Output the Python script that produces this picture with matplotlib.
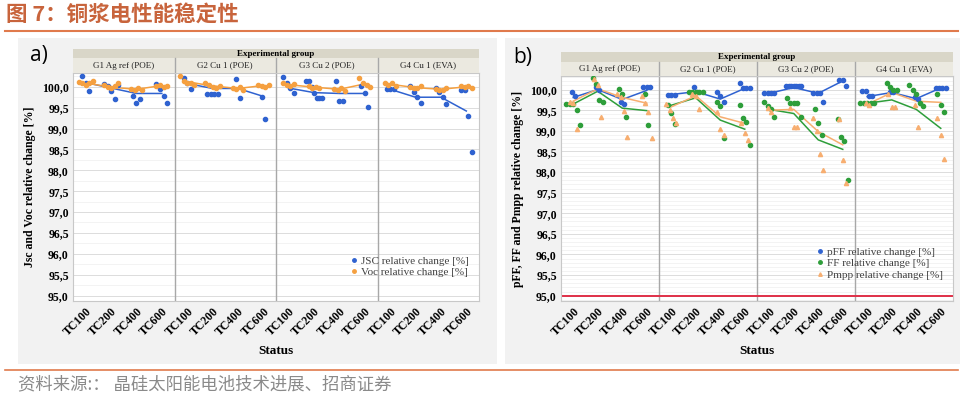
import numpy as np
import matplotlib.pyplot as plt
from matplotlib.patches import Rectangle
from matplotlib.lines import Line2D
from matplotlib.ticker import MultipleLocator, FuncFormatter

plt.rcParams['font.family'] = ['Liberation Serif', 'DejaVu Serif']

W, H = 966, 394

# --- data ---
groups = ['G1 Ag ref (POE)', 'G2 Cu 1 (POE)', 'G3 Cu 2 (POE)', 'G4 Cu 1 (EVA)']
status = ['TC100', 'TC200', 'TC400', 'TC600']

# panel a: Jsc and Voc, 16 positions (4 groups x 4 statuses)
jsc_pts = [
    [100.26, 100.1, 99.9], [100.06, 100.02, 99.9, 99.71, 100.05], [99.78, 99.62, 99.7], [100.06, 99.94, 99.78, 99.62],
    [100.2, 100.1, 99.94], [99.82, 99.82, 99.82, 99.82], [100.18, 99.74], [99.76, 99.22],
    [100.24, 100.08, 99.96, 99.84], [100.13, 100.13, 100.0, 99.86, 99.74, 99.74, 99.74], [100.13, 99.66, 99.66], [100.02, 99.86, 99.52],
    [99.94, 99.94, 99.94], [100.02, 99.87, 99.75, 99.62], [99.98, 99.87, 99.75, 99.58], [99.92, 99.92, 99.3, 98.44],
]
jsc_mean = [100.1, 99.97, 99.84, 99.84, 100.08, 99.96, 99.96, 99.77,
            99.97, 99.86, 99.84, 99.84, 99.94, 99.75, 99.75, 99.42]
voc_pts = [
    [100.12, 100.08, 100.05, 100.1, 100.15], [100.05, 100.0, 99.98, 100.02, 100.08], [99.95, 99.93, 99.97, 99.92], [100.03, 100.05, 100.0, 100.02],
    [100.25, 100.15, 100.1, 100.08, 100.05], [100.08, 100.05, 100.0, 99.98, 100.02], [99.97, 99.95, 100.0, 99.93], [100.05, 100.03, 100.0, 100.04],
    [100.08, 100.05, 100.03, 100.06], [100.02, 99.98, 100.0, 99.97], [99.95, 99.92, 99.97, 99.9], [100.2, 100.1, 100.05, 100.0],
    [100.1, 100.05, 100.08, 100.03], [100.0, 99.98, 99.97, 100.02], [99.95, 99.93, 99.92, 99.97], [100.02, 100.0, 100.03, 99.98],
]
voc_mean = [100.09, 99.99, 99.94, 100.03, 100.12, 100.02, 99.96, 100.03,
            100.05, 99.99, 99.94, 100.07, 100.06, 99.98, 99.94, 100.0]

# panel b: pFF, FF, Pmpp
pff_pts = [
    [99.93, 99.85], [100.06, 100.0], [99.7, 99.65], [100.07, 100.07, 100.07],
    [99.88, 99.88, 99.88], [100.07, 99.95], [99.95, 99.85, 99.7], [100.15, 100.03, 100.03, 100.03],
    [99.91, 99.91, 99.91, 99.91], [100.08] * 7, [99.91, 99.91, 99.91, 99.69], [100.23, 100.23, 100.08],
    [99.97, 99.97, 99.84, 99.84], [99.95, 99.95], [99.82, 99.76], [100.04] * 4,
]
pff_mean = [99.81, 100.0, 99.76, 99.98, 99.88, 99.95, 99.77, 100.03,
            99.91, 100.05, 99.91, 100.21, 99.83, 99.93, 99.78, 100.04]
ff_pts = [
    [99.65, 99.65, 99.65, 99.51, 99.15], [100.28, 100.14, 99.75, 99.69], [100.02, 99.9, 99.34], [99.9, 99.15],
    [99.62, 99.44, 99.16], [99.93] * 5, [99.7, 99.6, 98.82], [99.62, 99.32, 99.22, 98.66],
    [99.71, 99.6, 99.52, 99.34], [99.79, 99.67, 99.67, 99.67, 99.34], [99.52, 99.18, 98.9], [99.28, 98.86, 98.75, 97.81],
    [99.67] * 5, [100.16, 100.06, 99.98, 99.98], [100.1, 99.98, 99.9, 99.67, 99.6], [99.9, 99.62, 99.46],
]
ff_mean = [99.65, 99.96, 99.55, 99.49, 99.62, 99.8, 99.26, 99.04,
           99.52, 99.42, 98.78, 98.55, 99.67, 99.75, 99.52, 99.06]
pmpp_pts = [
    [99.7, 99.67, 99.05], [100.25, 100.1, 99.33], [99.9, 99.82, 99.49, 98.86], [99.85, 99.67, 99.45, 98.83],
    [99.66, 99.5, 99.3, 99.18], [99.9, 99.85, 99.52], [99.45, 99.05, 98.9], [99.2, 98.95, 98.78],
    [99.55, 99.46], [99.55, 99.1, 99.1], [99.3, 99.0, 98.44, 98.05], [99.28, 98.29, 97.74],
    [99.67, 99.62], [99.9, 99.58, 99.58], [99.62, 99.1], [99.3, 98.9, 98.31],
]
pmpp_mean = [99.72, 100.02, 99.81, 99.67, 99.58, 99.85, 99.34, 99.18,
             99.5, 99.52, 98.98, 98.66, 99.64, 99.93, 99.72, 99.69]

BLUE = '#2f62d0'
ORANGE = '#f5a040'
GREEN = '#2e9e3a'
PMPP = '#f7ae70'


def px_axes(fig, x0, y0, x1, y1, **kw):
    return fig.add_axes([x0 / W, 1 - y1 / H, (x1 - x0) / W, (y1 - y0) / H], **kw)


def spread(n):
    w = min(0.3, 0.07 * (n - 1))
    return np.linspace(-w, w, n) if n > 1 else np.zeros(1)


def draw_series(ax, pts, means, color, marker='o', ms=3.0):
    for i, vals in enumerate(pts):
        ax.plot(i + spread(len(vals)), vals, ls='none', marker=marker, ms=ms,
                color=color, mec=color, zorder=3)
    for g in range(4):
        xs = np.arange(g * 4, g * 4 + 4)
        ax.plot(xs, means[g * 4:g * 4 + 4], color=color, lw=1.1, zorder=2)


def setup_main(ax, minor):
    ax.set_facecolor('white')
    ax.set_xlim(-0.5, 15.5)
    ax.set_ylim(94.87, 100.33)
    ax.yaxis.set_major_locator(MultipleLocator(0.5))
    ax.yaxis.set_minor_locator(MultipleLocator(minor))
    ax.yaxis.set_major_formatter(FuncFormatter(lambda v, p: f'{v:.1f}'.replace('.', ',')))
    ax.grid(axis='y', which='major', color='#dcdcdc', lw=0.7)
    ax.grid(axis='y', which='minor', color='#efefef', lw=0.5)
    ax.set_axisbelow(True)
    for b in (3.5, 7.5, 11.5):
        ax.axvline(b, color='#a8a8a8', lw=1.0, zorder=1)
    for s in ax.spines.values():
        s.set_color('#c8c8c8')
        s.set_linewidth(0.8)
    ax.set_xticks(range(16))
    ax.set_xticklabels(status * 4, rotation=45, ha='right', va='top',
                       rotation_mode='anchor', fontsize=8.5, fontweight='bold')
    ax.tick_params(axis='x', length=0, pad=3)
    ax.tick_params(axis='y', which='both', length=0, labelsize=8.5, pad=3)
    for t in ax.get_yticklabels():
        t.set_fontweight('bold')
    ax.set_xlabel('Status', fontsize=9.5, fontweight='bold', labelpad=5)


def header(fig, x0, y0, ymid, x1, y1):
    hx = px_axes(fig, x0, y0, x1, y1)
    hx.set_xlim(-0.5, 15.5)
    hx.set_ylim(0, y1 - y0)
    hx.axis('off')
    top_h = y1 - ymid
    hx.add_patch(Rectangle((-0.5, top_h), 16, ymid - y0, color='#d9d6c8', lw=0))
    hx.add_patch(Rectangle((-0.5, 0), 16, top_h, color='#ebe9e0', lw=0))
    hx.text(7.5, top_h + (ymid - y0) / 2, 'Experimental group', ha='center', va='center',
            fontsize=6.5, fontweight='bold')
    for g, name in enumerate(groups):
        hx.text(g * 4 + 1.5, top_h / 2, name, ha='center', va='center', fontsize=6.5, color='#222222')
    for b in (3.5, 7.5, 11.5):
        hx.plot([b, b], [0, top_h], color='#a8a8a8', lw=1.0)


fig = plt.figure(figsize=(W / 100, H / 100), dpi=100)
fig.patch.set_facecolor('white')

# panel backgrounds (behind the axes)
fig.patches.append(Rectangle((18 / W, 1 - 364 / H), 479 / W, 326 / H, transform=fig.transFigure,
                             color='#f2f2f2', lw=0, zorder=-5))
fig.patches.append(Rectangle((505 / W, 1 - 364 / H), 455 / W, 326 / H, transform=fig.transFigure,
                             color='#f2f2f2', lw=0, zorder=-5))

# panel a
axa = px_axes(fig, 73, 73, 479, 301)
setup_main(axa, 0.25)
draw_series(axa, jsc_pts, jsc_mean, BLUE)
draw_series(axa, voc_pts, voc_mean, ORANGE)
axa.set_ylabel('Jsc and Voc relative change [%]', fontsize=8.5, fontweight='bold', labelpad=4)
header(fig, 73, 49, 58, 479, 73)
leg_a = [Line2D([], [], ls='none', marker='o', ms=2.5, color=BLUE, label='JSC relative change [%]'),
         Line2D([], [], ls='none', marker='o', ms=2.5, color=ORANGE, label='Voc relative change [%]')]
axa.legend(handles=leg_a, loc='lower right', bbox_to_anchor=(1.0, 0.06), frameon=False,
           fontsize=8, handletextpad=0.1, handlelength=1.0, labelspacing=0.15,
           labelcolor='#404040')

# panel b
axb = px_axes(fig, 561, 76, 953, 301)
setup_main(axb, 0.1)
axb.axhline(95.0, color='#e03048', lw=1.4, zorder=2)
draw_series(axb, pff_pts, pff_mean, BLUE)
draw_series(axb, ff_pts, ff_mean, GREEN)
draw_series(axb, pmpp_pts, pmpp_mean, PMPP, marker='^', ms=3.0)
axb.set_ylabel('pFF, FF and Pmpp relative change [%]', fontsize=8.5, fontweight='bold', labelpad=4)
header(fig, 561, 52, 62, 953, 76)
leg_b = [Line2D([], [], ls='none', marker='o', ms=2.5, color=BLUE, label='pFF relative change [%]'),
         Line2D([], [], ls='none', marker='o', ms=2.5, color=GREEN, label='FF relative change [%]'),
         Line2D([], [], ls='none', marker='^', ms=2.5, color=PMPP, label='Pmpp relative change [%]')]
axb.legend(handles=leg_b, loc='lower right', bbox_to_anchor=(1.0, 0.05), frameon=False,
           fontsize=8, handletextpad=0.1, handlelength=1.0, labelspacing=0.15,
           labelcolor='#404040')

# panel letters
fig.text(30 / W, 1 - 56 / H, 'a)', fontsize=15, family='Open Sans', va='center')
fig.text(513 / W, 1 - 58 / H, 'b)', fontsize=15, family='Open Sans', va='center')

# title, rules and source
fig.text(6 / W, 1 - 14 / H, '图 7：铜浆电性能稳定性', fontsize=15.5, fontweight='bold',
         color='#c8643c', va='center', family=['Noto Sans CJK SC', 'DejaVu Sans'])
fig.add_artist(Line2D([5 / W, 958 / W], [1 - 31 / H, 1 - 31 / H], color='#e07a4c', lw=1.5))
fig.add_artist(Line2D([5 / W, 958 / W], [1 - 370 / H, 1 - 370 / H], color='#e07a4c', lw=1.2))
fig.text(18 / W, 1 - 384 / H, '资料来源:： 晶硅太阳能电池技术进展、招商证券', fontsize=12.5,
         color='#8a8a8a', va='center', family=['Noto Sans CJK SC', 'DejaVu Sans'])

fig.savefig('out.png', dpi=100)
